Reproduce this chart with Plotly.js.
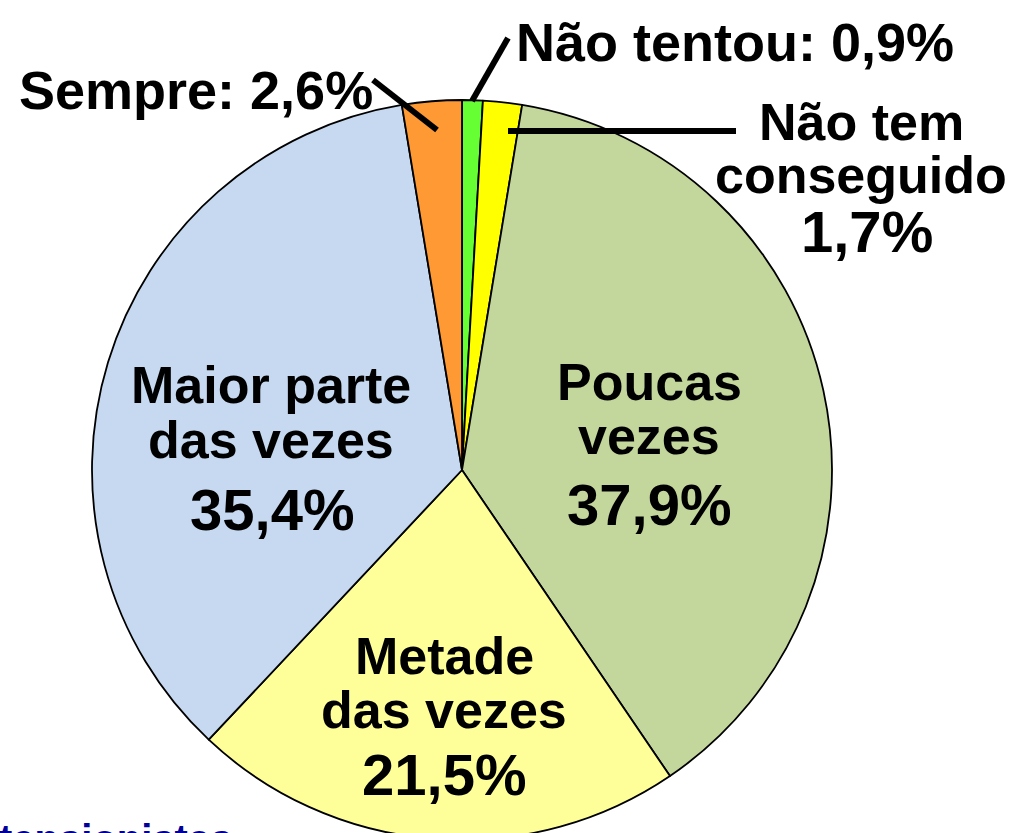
<!DOCTYPE html>
<html>
<head>
<meta charset="utf-8">
<script src="https://cdn.plot.ly/plotly-3.0.1.min.js"></script>
<style>
html,body{margin:0;padding:0;overflow:hidden;background:#fff;}
#chart{width:1011px;height:860px;}
</style>
</head>
<body>
<div id="chart"></div>
<script>
const categories = ["Não tentou", "Não tem conseguido", "Poucas vezes", "Metade das vezes", "Maior parte das vezes", "Sempre"];
const values = [0.9, 1.7, 37.9, 21.5, 35.4, 2.6];
const valueLabels = ["0,9%", "1,7%", "37,9%", "21,5%", "35,4%", "2,6%"];
const colors = ["#66FF33", "#FFFF00", "#C3D69B", "#FFFF99", "#C6D9F0", "#FF9933"];

const W = 1011, H = 860;
const px = x => x / W;
const py = y => (H - y) / H;

const FAM = "Liberation Sans, Arial, sans-serif";
const fontOut = {family: FAM, size: 54, color: "#000"};
const fontWord = {family: FAM, size: 52, color: "#000"};
const fontPct = {family: FAM, size: 58, color: "#000"};

function ann(text, x, y, f) {
  return {
    text: "<b>" + text + "</b>", x: px(x), y: py(y), xref: "paper", yref: "paper",
    showarrow: false, xanchor: "center", yanchor: "middle", font: f, borderpad: 0
  };
}

const annotations = [
  ann(categories[0] + ": " + valueLabels[0], 735, 42, fontOut),
  ann(categories[5] + ": " + valueLabels[5], 196, 90, fontOut),
  ann("Não tem", 861, 122, fontWord),
  ann("conseguido", 861, 175, fontWord),
  ann(valueLabels[1], 867, 232, fontPct),
  ann("Poucas", 649, 382, fontWord),
  ann("vezes", 649, 436, fontWord),
  ann(valueLabels[2], 649, 504, fontPct),
  ann("Maior parte", 271, 385, fontWord),
  ann("das vezes", 271, 440, fontWord),
  ann(valueLabels[4], 272, 509, fontPct),
  ann("Metade", 444, 656, fontWord),
  ann("das vezes", 444, 710, fontWord),
  ann(valueLabels[3], 444, 774, fontPct),
  {text: "<b>tensionistas</b>", x: px(-3), y: py(815), xref: "paper", yref: "paper",
   showarrow: false, xanchor: "left", yanchor: "top",
   font: {family: FAM, size: 40, color: "#000099"}}
];

const lineStyle = {color: "#000", width: 6};
const shapes = [
  {type: "line", xref: "paper", yref: "paper", x0: px(472), y0: py(101), x1: px(508), y1: py(38), line: lineStyle},
  {type: "line", xref: "paper", yref: "paper", x0: px(373), y0: py(80), x1: px(437), y1: py(130), line: lineStyle},
  {type: "line", xref: "paper", yref: "paper", x0: px(508), y0: py(131), x1: px(736), y1: py(131), line: lineStyle}
];

const cx = 462, cy = 470, r = 370;
const data = [{
  type: "pie",
  labels: categories,
  values: values,
  sort: false,
  direction: "clockwise",
  rotation: 0,
  textinfo: "none",
  hoverinfo: "none",
  marker: {colors: colors, line: {color: "#000", width: 1.8}},
  domain: {x: [px(cx - r), px(cx + r)], y: [py(cy + r), py(cy - r)]},
  showlegend: false
}];

const layout = {
  width: W, height: H,
  margin: {l: 0, r: 0, t: 0, b: 0},
  paper_bgcolor: "#fff",
  plot_bgcolor: "#fff",
  showlegend: false,
  annotations: annotations,
  shapes: shapes
};

Plotly.newPlot("chart", data, layout, {displayModeBar: false, staticPlot: true});
</script>
</body>
</html>
